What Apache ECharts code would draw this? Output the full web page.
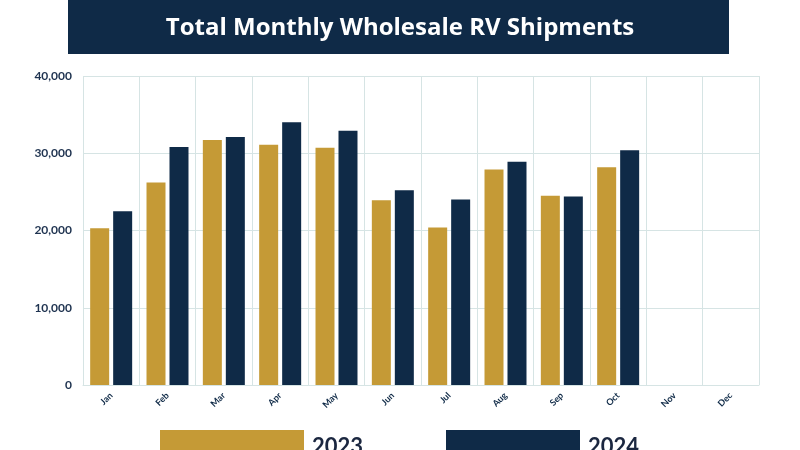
<!DOCTYPE html>
<html>
<head>
<meta charset="utf-8">
<script src="https://cdn.jsdelivr.net/npm/echarts@6/dist/echarts.min.js"></script>
<style>html,body{margin:0;padding:0;background:#fff}#c{width:800px;height:450px}</style>
</head>
<body>
<div id="c"></div>
<script>
const months = ['Jan','Feb','Mar','Apr','May','Jun','Jul','Aug','Sep','Oct','Nov','Dec'];
const ship2023 = [20300, 26200, 31700, 31100, 30700, 23900, 20400, 27900, 24500, 28200, null, null];
const ship2024 = [22500, 30800, 32100, 34000, 32900, 25200, 24000, 28900, 24400, 30400, null, null];
const yTicks = {min: 0, max: 40000, interval: 10000};
const seriesNames = ['2023', '2024'];

const GOLD = '#C59A36';
const NAVY = '#0F2A47';
const legendText = {color: '#1b2740', fontFamily: 'Lato', fontWeight: 'bold', fontSize: 22, padding: [0,0,0,3]};
const chart = echarts.init(document.getElementById('c'), null, {renderer: 'canvas'});
chart.setOption({
  animation: false,
  graphic: [{
    type: 'rect', left: 68, top: 0, z: 0,
    shape: {width: 661, height: 54},
    style: {fill: NAVY}
  }],
  title: {
    text: 'Total Monthly Wholesale RV Shipments',
    left: 'center', top: 11, z: 10,
    textStyle: {color: '#fff', fontFamily: 'Open Sans', fontWeight: 'bold', fontSize: 24}
  },
  legend: [{
    data: [seriesNames[0]],
    left: 155, top: 425,
    icon: 'rect', itemWidth: 144, itemHeight: 34,
    textStyle: legendText
  }, {
    data: [seriesNames[1]],
    left: 441, top: 425,
    icon: 'rect', itemWidth: 134, itemHeight: 34,
    textStyle: legendText
  }],
  grid: {left: 83, right: 41, top: 76, bottom: 65},
  xAxis: {
    type: 'category', data: months,
    axisTick: {show: false},
    axisLine: {lineStyle: {color: '#d6e4e4'}},
    splitLine: {show: true, lineStyle: {color: '#d6e4e4'}},
    axisLabel: {rotate: 45, color: NAVY, fontFamily: 'Lato', fontWeight: 'bold', fontSize: 9, margin: 9}
  },
  yAxis: {
    type: 'value', min: yTicks.min, max: yTicks.max, interval: yTicks.interval,
    axisLine: {show: false}, axisTick: {show: false},
    splitLine: {lineStyle: {color: '#d6e4e4'}},
    axisLabel: {color: '#1f3350', fontFamily: 'Lato', fontWeight: 'bold', fontSize: 12, margin: 11,
      formatter: v => v.toLocaleString('en-US')}
  },
  series: [
    {name: seriesNames[0], type: 'bar', data: ship2023, barWidth: 19, barGap: '21%', itemStyle: {color: GOLD}},
    {name: seriesNames[1], type: 'bar', data: ship2024, barWidth: 19, barGap: '21%', itemStyle: {color: NAVY}}
  ]
});
</script>
</body>
</html>
